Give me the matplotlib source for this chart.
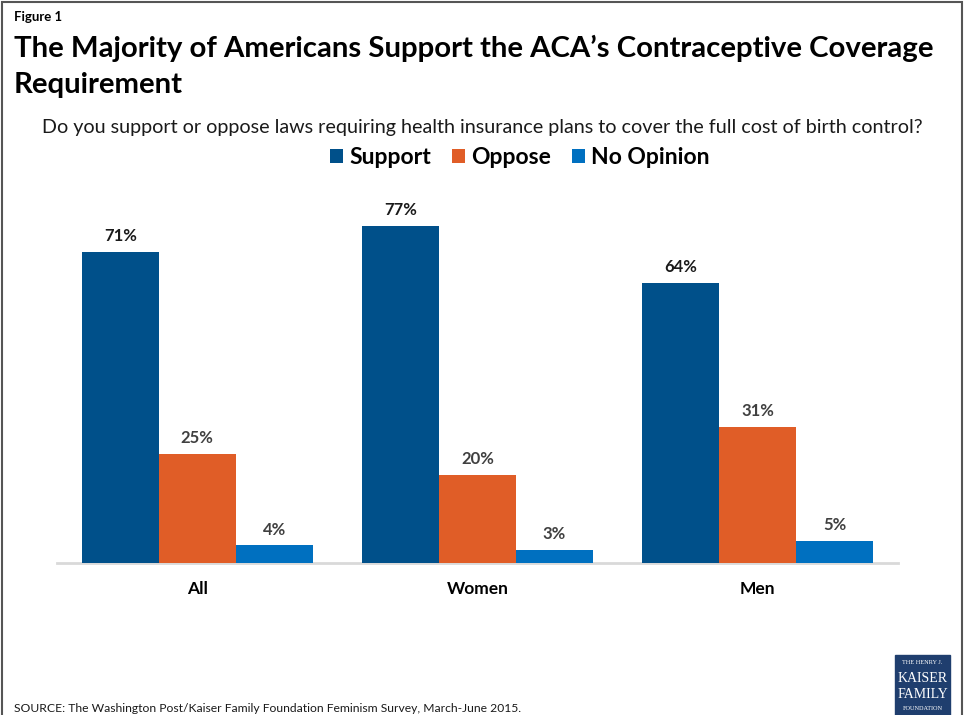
import matplotlib
matplotlib.use("Agg")
import matplotlib.pyplot as plt
import matplotlib.patches as mpatches
import numpy as np

plt.rcParams['font.family'] = ['Lato', 'DejaVu Sans']

groups = ["All", "Women", "Men"]
series_names = ["Support", "Oppose", "No Opinion"]
support = [71, 77, 64]
oppose = [25, 20, 31]
no_opinion = [4, 3, 5]
colors = ["#00508a", "#e05d27", "#0070c0"]
label_colors = ["#1a1a1a", "#404040", "#404040"]

W, H = 966, 715
fig = plt.figure(figsize=(W/100, H/100), dpi=100)

def fx(px): return px / W
def fy(py): return 1 - py / H

# border
fig.patches.append(mpatches.Rectangle((fx(2), fy(760)), fx(960), (760-2)/H,
                   transform=fig.transFigure, fill=False, edgecolor="#555555", linewidth=1.5))

ax_left, ax_right, ax_base, ax_top = 57, 898, 563, 200
ax = fig.add_axes([fx(ax_left), fy(ax_base), fx(ax_right-ax_left), (ax_base-ax_top)/H])
scale = 4.38
ax.set_ylim(0, (ax_base-ax_top)/scale)
ax.set_xlim(-0.5, 2.5)

x = np.arange(len(groups))
bw = 77/280.5
data = [support, oppose, no_opinion]
for i, (vals, c, lc) in enumerate(zip(data, colors, label_colors)):
    pos = x + (i-1)*bw
    ax.bar(pos, vals, width=bw, color=c, label=series_names[i], zorder=3)
    for p, v in zip(pos, vals):
        ax.annotate(f"{v}%", (p, v), xytext=(0, 11.5), textcoords="offset points",
                    ha="center", va="center", fontsize=12, fontweight="bold", color=lc)

for s in ["top", "right", "left"]:
    ax.spines[s].set_visible(False)
ax.spines["bottom"].set_color("#d9d9d9")
ax.spines["bottom"].set_linewidth(2)
ax.set_yticks([])
ax.set_xticks(x)
ax.set_xticklabels(groups, fontsize=12.5, fontweight="bold")
ax.tick_params(axis="x", length=0, pad=13)

handles, labels = ax.get_legend_handles_labels()
fig.legend(handles, labels, loc="center", bbox_to_anchor=(fx(520), fy(158)), ncol=3,
           frameon=False, prop={"size": 16.5, "weight": "bold"}, handlelength=0.55,
           handleheight=0.55, handletextpad=0.3, columnspacing=0.9)

fig.text(fx(14), fy(17), "Figure 1", fontsize=9.5, fontweight="bold", va="center", ha="left")
fig.text(fx(14), fy(66.5), "The Majority of Americans Support the ACA\u2019s Contraceptive Coverage\nRequirement",
         fontsize=21.2, fontweight="bold", va="center", ha="left", linespacing=1.5)
fig.text(fx(482), fy(128), "Do you support or oppose laws requiring health insurance plans to cover the full cost of birth control?",
         fontsize=14.2, va="center", ha="center", color="#1a1a1a")
fig.text(fx(14), fy(709), "SOURCE: The Washington Post/Kaiser Family Foundation Feminism Survey, March-June 2015.",
         fontsize=8.7, va="center", ha="left", color="#1a1a1a")

# logo
fig.patches.append(mpatches.Rectangle((fx(895), fy(715)), fx(55), 60/H,
                   transform=fig.transFigure, color="#1f3e6e"))
lx = fx(922.5)
fig.text(lx, fy(663), "THE HENRY J.", fontsize=4.5, color="white", ha="center", va="center", family="Liberation Serif")
fig.text(lx, fy(678), "KAISER", fontsize=10, color="white", ha="center", va="center", family="Liberation Serif")
fig.text(lx, fy(694), "FAMILY", fontsize=10, color="white", ha="center", va="center", family="Liberation Serif")
fig.text(lx, fy(708), "FOUNDATION", fontsize=4.5, color="white", ha="center", va="center", family="Liberation Serif")

fig.savefig("out.png", dpi=100)
